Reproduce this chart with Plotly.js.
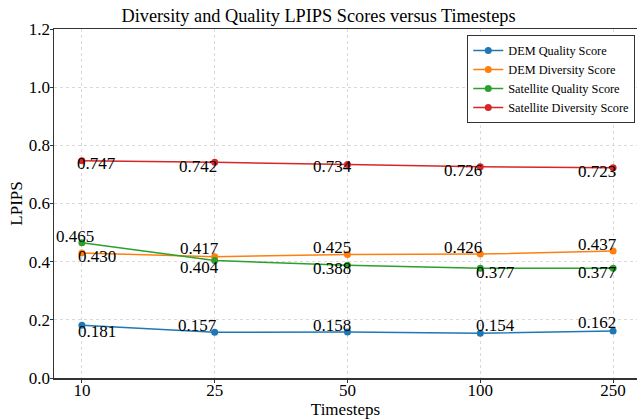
<!DOCTYPE html>
<html>
<head>
<meta charset="utf-8">
<script src="https://cdn.plot.ly/plotly-3.0.1.min.js"></script>
<style>html,body{margin:0;padding:0;background:#fff;}#chart{width:637px;height:419px;}</style>
</head>
<body>
<div id="chart"></div>
<script>
const timesteps = ['10', '25', '50', '100', '250'];
const demQuality = [0.181, 0.157, 0.158, 0.154, 0.162];
const demDiversity = [0.430, 0.417, 0.425, 0.426, 0.437];
const satQuality = [0.465, 0.404, 0.388, 0.377, 0.377];
const satDiversity = [0.747, 0.742, 0.734, 0.726, 0.723];
const seriesNames = ['DEM Quality Score', 'DEM Diversity Score', 'Satellite Quality Score', 'Satellite Diversity Score'];
const seriesColors = ['#1f77b4', '#ff7f0e', '#2ca02c', '#d62728'];

// label offsets in px [dx, dy(up)] per series per point
const labelShift = [
  [[15, -6], [-17, 7], [-15, 7], [15, 8], [-16, 8]],
  [[15, -4], [-15, 8], [-15, 7], [-17, 7], [-16, 6]],
  [[-7, 6], [-15, -7], [-15, -3], [15, -4], [-16, -4]],
  [[15, -3], [-17, -4], [-15, -2], [-17, -4], [-16, -4]]
];

const allSeries = [demQuality, demDiversity, satQuality, satDiversity];
const font = 'Liberation Serif';

const traces = allSeries.map((vals, i) => ({
  x: timesteps, y: vals, type: 'scatter', mode: 'lines+markers', name: seriesNames[i],
  line: {color: seriesColors[i], width: 1.5},
  marker: {color: seriesColors[i], size: 7}
}));

const annotations = [];
allSeries.forEach((vals, i) => {
  vals.forEach((v, j) => {
    annotations.push({
      x: j, y: v, xref: 'x', yref: 'y', text: v.toFixed(3), showarrow: false,
      xshift: labelShift[i][j][0], yshift: labelShift[i][j][1],
      font: {family: font, size: 17, color: '#000'}
    });
  });
});

const layout = {
  width: 637, height: 419,
  margin: {l: 54, r: 0, t: 29, b: 41},
  paper_bgcolor: '#fff', plot_bgcolor: '#fff',
  font: {family: font, color: '#000'},
  title: {text: 'Diversity and Quality LPIPS Scores versus Timesteps', font: {family: font, size: 18.3, color: '#000'}, x: 0.5, xanchor: 'center', y: 0.962, yanchor: 'middle'},
  xaxis: {
    type: 'category', range: [-0.21, 4.18],
    title: {text: 'Timesteps', font: {family: font, size: 17}, standoff: 5},
    tickfont: {family: font, size: 17},
    showgrid: true, gridcolor: '#d9d9d9', griddash: 'dot', gridwidth: 1,
    showline: true, linecolor: '#333', linewidth: 1.5, mirror: true,
    ticks: 'outside', ticklen: 3, tickcolor: '#333', zeroline: false,
    ticklabelstandoff: -7
  },
  yaxis: {
    range: [0, 1.2], dtick: 0.2, tick0: 0, tickformat: '.1f',
    title: {text: 'LPIPS', font: {family: font, size: 17}, standoff: 2},
    tickfont: {family: font, size: 17},
    showgrid: true, gridcolor: '#d9d9d9', griddash: 'dot', gridwidth: 1,
    showline: true, linecolor: '#333', linewidth: 1.5, mirror: true,
    ticks: 'outside', ticklen: 3, tickcolor: '#333', zeroline: false,
    ticklabelstandoff: -4
  },
  legend: {
    x: 0.997, xanchor: 'right', y: 0.983, yanchor: 'top',
    bgcolor: '#fff', bordercolor: '#333', borderwidth: 1,
    font: {family: font, size: 12.3, color: '#000'}, tracegroupgap: 0
  },
  showlegend: true,
  annotations: annotations
};

Plotly.newPlot('chart', traces, layout, {displayModeBar: false, staticPlot: true});
</script>
</body>
</html>
